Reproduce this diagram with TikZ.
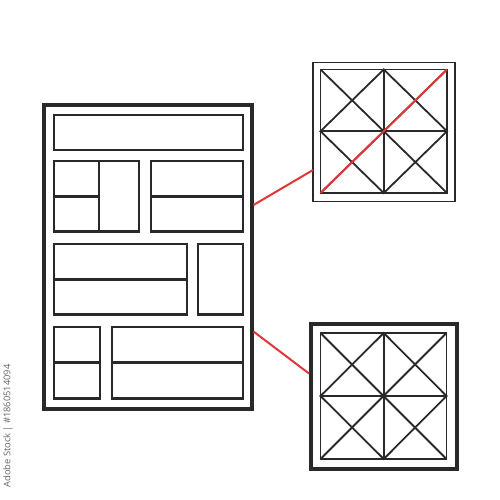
\documentclass[tikz,border=0pt]{standalone}
\usepackage{fontspec}
\setmainfont{Open Sans}
\begin{document}
\begin{tikzpicture}[x=1pt,y=-1pt,
  ink/.style={draw=black!84, line join=miter},
  pagebox/.style={ink, line width=4pt},
  cell/.style={ink, line width=2.2pt},
  thinframe/.style={ink, line width=1.1pt},
  thickframe/.style={ink, line width=4pt},
  grid/.style={ink, line width=1.8pt},
  redline/.style={draw={rgb,255:red,226;green,54;blue,58}, line width=2pt},
  wm/.style={text=black!60, font=\fontsize{9.3}{10}\selectfont, rotate=90, inner sep=0pt}
]
\useasboundingbox (0,0) rectangle (500,500);
\fill[white] (0,0) rectangle (500,500);

% main page
\draw[pagebox] (43.5,105) rectangle (252,409);
\coordinate (pageR1) at (253.5,205);
\coordinate (pageR2) at (253.5,331.5);

% rows
\draw[cell] (54,115) rectangle (243,150);
\draw[cell] (54,161) rectangle (139,231.5);
\draw[cell] (99,161) -- (99,231.5);
\draw[cell] (54,196.5) -- (99,196.5);
\draw[cell] (151,161) rectangle (243,231.5);
\draw[cell] (151,196.5) -- (243,196.5);

\draw[cell] (54,244) rectangle (187,314.5);
\draw[cell] (54,279.5) -- (187,279.5);
\draw[cell] (198,244) rectangle (243,314.5);

\draw[cell] (54,327) rectangle (100,398.5);
\draw[cell] (54,362.5) -- (100,362.5);
\draw[cell] (112,327) rectangle (243,398.5);
\draw[cell] (112,362.5) -- (243,362.5);

% top detail
\draw[thinframe] (313,62.5) rectangle (455,201.5);
\draw[grid] (320.5,69.5) rectangle (447,193);
\draw[grid] (383.75,69.5) -- (383.75,193);
\draw[grid] (320.5,131.25) -- (447,131.25);
\draw[grid] (320.5,69.5) -- (447,193);
\draw[grid] (320.5,193) -- (447,69.5);
\draw[grid] (383.75,69.5) -- (447,131.25) -- (383.75,193) -- (320.5,131.25) -- cycle;
\coordinate (tL) at (313,170);
\draw[redline] (320.5,193) -- (447,69.5);
\draw[redline] (pageR1) -- (tL);

% bottom detail
\draw[thickframe] (311,324) rectangle (456.5,468.5);
\draw[grid] (320.5,333) rectangle (446.5,459);
\draw[grid] (383.75,333) -- (383.75,459);
\draw[grid] (320.5,396) -- (446.5,396);
\draw[grid] (320.5,333) -- (446.5,459);
\draw[grid] (320.5,459) -- (446.5,333);
\draw[grid] (383.75,333) -- (446.5,396) -- (383.75,459) -- (320.5,396) -- cycle;
\coordinate (bL) at (309,373.5);
\draw[redline] (pageR2) -- (bL);

% watermark id
\node[wm] (wmark) at (8,426) {Adobe Stock | \#1860514094};
\end{tikzpicture}
\end{document}
